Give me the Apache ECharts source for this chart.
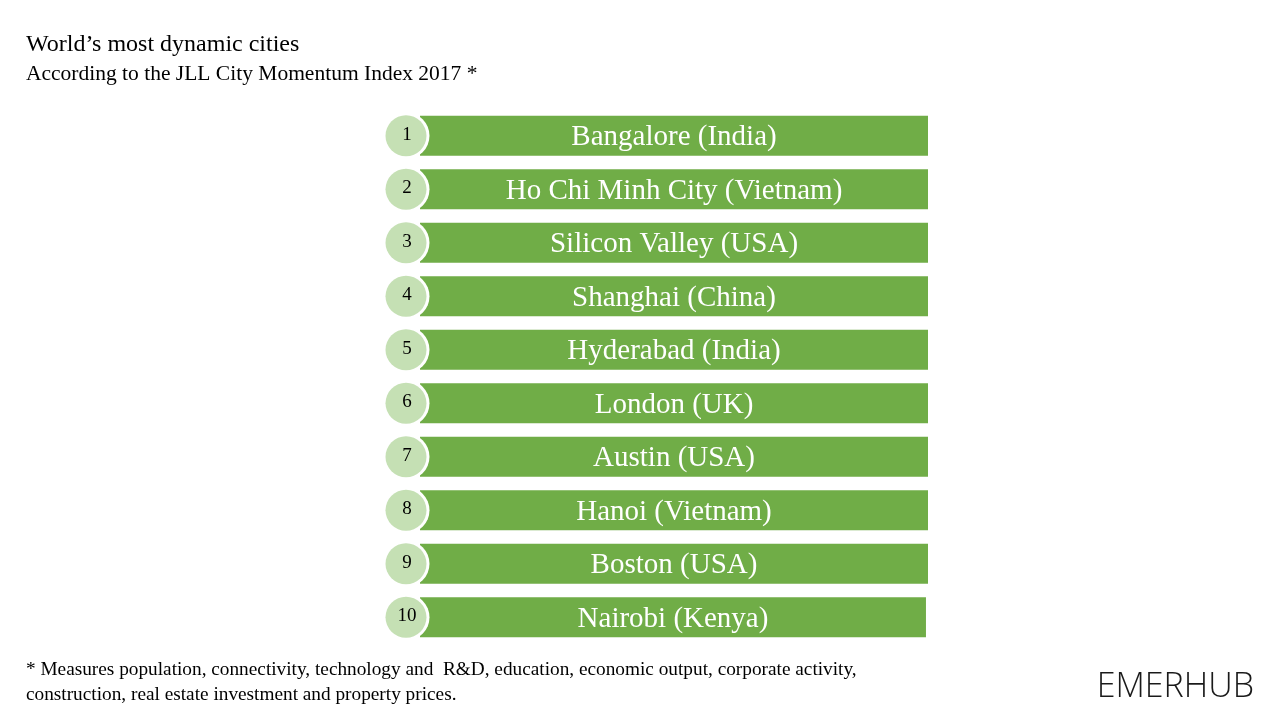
<!DOCTYPE html>
<html><head><meta charset="utf-8">
<script src="https://cdn.jsdelivr.net/npm/echarts@6/dist/echarts.min.js"></script>
<style>html,body{margin:0;padding:0;background:#fff}#c{width:1280px;height:720px}</style>
</head><body><div id="c"></div>
<script>
var cities = ['Bangalore (India)','Ho Chi Minh City (Vietnam)','Silicon Valley (USA)','Shanghai (China)','Hyderabad (India)','London (UK)','Austin (USA)','Hanoi (Vietnam)','Boston (USA)','Nairobi (Kenya)'];
var ranks = [1,2,3,4,5,6,7,8,9,10];
var barValues = [1,1,1,1,1,1,1,1,1,0.996];
var titleText = 'World\u2019s most dynamic cities';
var subtitleText = 'According to the JLL City Momentum Index 2017 *';
var footLines = ['* Measures population, connectivity, technology and  R&D, education, economic output, corporate activity,','construction, real estate investment and property prices.'];
var serif = '"Liberation Serif", "DejaVu Serif", serif';
var chart = echarts.init(document.getElementById('c'));
chart.setOption({
  animation:false,
  backgroundColor:'#ffffff',
  title:{text:titleText, subtext:subtitleText, left:21, top:28, itemGap:6,
    textStyle:{fontFamily:serif,fontSize:24,fontWeight:'normal',color:'#000'},
    subtextStyle:{fontFamily:serif,fontSize:21.5,color:'#000'}},
  grid:{left:420,right:352,top:109,bottom:76},
  xAxis:{type:'value',min:0,max:1,show:false},
  yAxis:{type:'category',data:cities,inverse:true,show:false},
  series:[
    {type:'bar',data:barValues,barWidth:40,itemStyle:{color:'#70ad47'},z:1,
     label:{show:true,position:'inside',offset:[0,2],formatter:function(p){return cities[p.dataIndex];},color:'#fff',fontFamily:serif,fontSize:29}},
    {type:'scatter',data:cities.map(function(c,i){return [0,c];}),symbol:'circle',symbolSize:47,symbolOffset:[-14,0],
     itemStyle:{color:'#ffffff',opacity:1},z:3,silent:true},
    {type:'scatter',data:cities.map(function(c,i){return [0,c,ranks[i]];}),symbol:'circle',symbolSize:41,symbolOffset:[-14,0],
     itemStyle:{color:'#c5e0b4',opacity:1},z:4,
     label:{show:true,position:'inside',offset:[1,-1],formatter:function(p){return String(ranks[p.dataIndex]);},color:'#000',fontFamily:serif,fontSize:19}}
  ],
  graphic:[
    {type:'text',left:26,top:657,style:{text:footLines.join('\n'),fontFamily:serif,fontSize:19.3,lineHeight:25,fill:'#000'}},
    {type:'text',right:26,top:670,style:{text:'EMERHUB',fontFamily:'"Open Sans", Lato, sans-serif',fontSize:34,fontWeight:300,fill:'#1a1a1a'}}
  ]
});
</script></body></html>
